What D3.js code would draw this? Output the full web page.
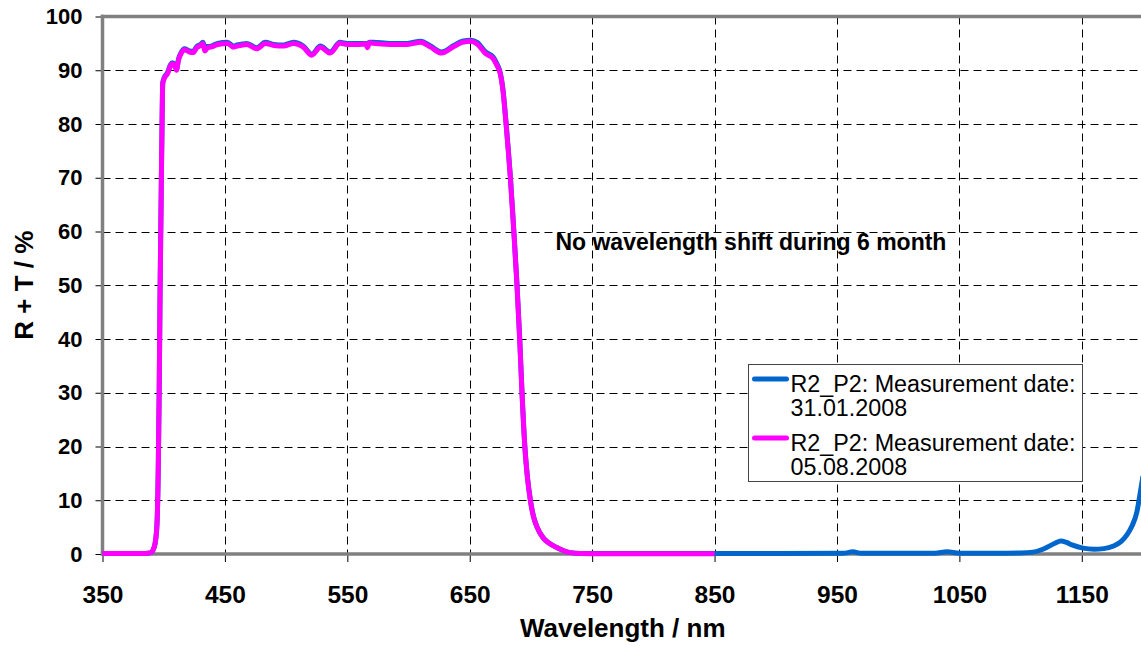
<!DOCTYPE html>
<html>
<head>
<meta charset="utf-8">
<script src="https://cdn.jsdelivr.net/npm/d3@7"></script>
<style>
    body { margin: 0; background: #fff; }
    svg { display: block; font-family: "Liberation Sans", Arial, sans-serif; }
</style>
</head>
<body>
<svg id="chart"></svg>
<script>
// wavelengths (nm) measured by both runs
var wlVis = [350, 370, 385, 389, 391, 393, 394.5, 395.5, 396.3, 397, 397.7, 398.2, 398.7, 399.2, 400.5, 403, 405.5, 407, 409, 410.5,
    412, 414, 417, 421, 424, 427, 430, 432, 433.5, 436, 440, 444, 452, 457, 460, 468, 476, 483, 490, 498,
    506, 514, 521, 528, 536, 544, 550, 558, 565, 566.5, 568, 571, 585, 599, 610, 618, 627, 637, 644, 651,
    656, 663, 669, 672, 675, 677, 679.5, 681.5, 683.2, 686, 688.6, 690.8, 692.7, 695, 697, 699.5, 702, 705, 710, 715,
    721, 727, 732, 740, 760, 800, 850];
// wavelengths (nm) only in the first run
var wlNir = [870, 900, 955, 963, 970, 1000, 1030, 1040, 1050, 1080, 1100, 1110, 1116, 1122, 1128, 1133, 1137, 1142, 1151, 1160,
    1168, 1176, 1182, 1187, 1191, 1195, 1197.7, 1200];
// R + T (%) 31.01.2008
var valJan = [0.1, 0.1, 0.1, 0.2, 0.6, 2.0, 5.5, 15, 30, 48, 62, 72, 81, 87.6, 88.7, 89.5, 91.0, 91.4, 91.0, 90.2,
    92.0, 93.2, 94.0, 93.6, 93.5, 94.4, 94.8, 95.2, 94.4, 94.4, 94.6, 95.0, 95.2, 94.5, 94.7, 95.0, 94.2, 95.2, 94.8, 94.7,
    95.2, 94.5, 93.0, 94.5, 93.4, 95.2, 95.0, 95.0, 95.0, 94.9, 95.2, 95.2, 95.0, 95.0, 95.4, 94.5, 93.4, 94.6, 95.4, 95.6,
    95.2, 93.4, 92.5, 91.3, 89.5, 86.7, 80.7, 75.2, 70.2, 60.2, 50.2, 40.2, 30.1, 20.1, 14.6, 10.1, 7.1, 5, 3, 2,
    1.2, 0.6, 0.25, 0.1, 0.08, 0.08, 0.1,
    0.1, 0.1, 0.12, 0.4, 0.12, 0.12, 0.15, 0.4, 0.15, 0.15, 0.2, 0.35, 0.7, 1.3, 2.0, 2.4, 2.2, 1.7, 1.1, 0.9,
    1.0, 1.5, 2.3, 3.6, 5.2, 7.8, 11.3, 14.5];
// R + T (%) 05.08.2008
var valAug = [0.1, 0.1, 0.1, 0.2, 0.6, 2.0, 5.5, 15, 30, 48, 62, 72, 81, 87.5, 88.5, 89.3, 90.8, 91.2, 90.8, 90.0,
    91.8, 93.0, 93.8, 93.4, 93.3, 94.2, 94.6, 95.0, 93.6, 94.2, 94.4, 94.8, 95.0, 94.3, 94.5, 94.8, 94.0, 95.0, 94.6, 94.5,
    95.0, 94.3, 92.8, 94.3, 93.2, 95.0, 94.8, 94.8, 94.9, 94.2, 95.1, 95.0, 94.8, 94.8, 95.2, 94.3, 93.2, 94.4, 95.2, 95.4,
    94.9, 93.1, 92.2, 91.0, 89.3, 86.5, 80.5, 75, 70, 60, 50, 40, 30, 20, 14.5, 10, 7, 5, 3, 2,
    1.2, 0.6, 0.25, 0.1, 0.05, 0.05, 0.05];
var xTicks = [350, 450, 550, 650, 750, 850, 950, 1050, 1150];
var yTicks = [0, 10, 20, 30, 40, 50, 60, 70, 80, 90, 100];
var seriesNames = ['R2_P2: Measurement date:|31.01.2008', 'R2_P2: Measurement date:|05.08.2008'];
var seriesColors = ['#0066cc', '#ff00ff'];
var note = 'No wavelength shift during 6 month';

function drawSpectrum(selector) {
    var svgWidth = 1141,
        svgHeight = 648;
    var svg = d3.select(selector)
        .attr('width', svgWidth)
        .attr('height', svgHeight);
    // scales
    var x = d3.scaleLinear().domain([350, 1200]).range([102.5, 1143]);
    var y = d3.scaleLinear().domain([0, 100]).range([554, 16.5]);

    // grid
    svg.append('g').selectAll('line')
        .data(xTicks.slice(1))
        .enter()
        .append('line')
        .attr('x1', function(d) { return Math.round(x(d)) + 0.5; })
        .attr('x2', function(d) { return Math.round(x(d)) + 0.5; })
        .attr('y1', y(100))
        .attr('y2', y(0))
        .attr('stroke', '#000')
        .attr('stroke-dasharray', '8,5');
    svg.append('g').selectAll('line')
        .data(yTicks.slice(1, -1))
        .enter()
        .append('line')
        .attr('x1', x(350))
        .attr('x2', x(1200))
        .attr('y1', function(d) { return Math.round(y(d)) + 0.5; })
        .attr('y2', function(d) { return Math.round(y(d)) + 0.5; })
        .attr('stroke', '#000')
        .attr('stroke-dasharray', '8,5');

    // axes
    var xAxis = d3.axisBottom(x).tickValues(xTicks).tickSize(8).tickPadding(24).tickFormat(d3.format('d'));
    var gx = svg.append('g')
        .attr('transform', 'translate(0,' + y(0) + ')')
        .call(xAxis);
    var yAxis = d3.axisLeft(y).tickValues(yTicks).tickSize(7).tickPadding(13);
    var gy = svg.append('g')
        .attr('transform', 'translate(' + x(350) + ',0)')
        .call(yAxis);
    [gx, gy].forEach(function(g) {
        g.select('.domain').remove();
        g.selectAll('.tick line').attr('stroke', '#000');
        g.selectAll('text')
            .attr('fill', '#000')
            .style('font-weight', 'bold');
    });
    gx.selectAll('text').style('font-size', '24.5px');
    gy.selectAll('text').style('font-size', '22px');

    // plot area border (grey)
    var border = [[x(350), y(100), x(350), y(0)], [x(350), y(0), x(1200), y(0)], [x(350), y(100), x(1200), y(100)]];
    svg.append('g').selectAll('line')
        .data(border)
        .enter()
        .append('line')
        .attr('x1', function(d) { return d[0]; })
        .attr('y1', function(d) { return d[1]; })
        .attr('x2', function(d) { return d[2]; })
        .attr('y2', function(d) { return d[3]; })
        .attr('stroke', '#808080')
        .attr('stroke-width', 3.5)
        .attr('stroke-linecap', 'square');

    // lines
    var line = d3.line()
        .curve(d3.curveMonotoneX)
        .x(function(d) { return x(d[0]); })
        .y(function(d) { return y(d[1]); });
    var wlJan = wlVis.concat(wlNir);
    var series = [
        wlJan.map(function(w, i) { return [w, valJan[i]]; }),
        wlVis.map(function(w, i) { return [w, valAug[i]]; })
    ];
    svg.append('g').selectAll('path')
        .data(series)
        .enter()
        .append('path')
        .attr('d', function(d) { return line(d); })
        .attr('fill', 'none')
        .attr('stroke', function(d, i) { return seriesColors[i]; })
        .attr('stroke-width', 5)
        .attr('stroke-linejoin', 'round');

    // note
    svg.append('text')
        .attr('x', x(720))
        .attr('y', y(56.6))
        .style('font-size', '23px')
        .style('font-weight', 'bold')
        .text(note);

    // axis titles
    svg.append('text')
        .attr('x', (x(350) + x(1200)) / 2)
        .attr('y', 637)
        .attr('text-anchor', 'middle')
        .style('font-size', '26px')
        .style('font-weight', 'bold')
        .text('Wavelength / nm');
    svg.append('text')
        .attr('transform', 'translate(33,' + (y(0) + y(100)) / 2 + ') rotate(-90)')
        .attr('text-anchor', 'middle')
        .style('font-size', '26px')
        .style('font-weight', 'bold')
        .text('R + T / %');

    // legend
    var legend = svg.append('g').attr('transform', 'translate(748.5,364.5)');
    legend.append('rect')
        .attr('width', 334)
        .attr('height', 117)
        .attr('fill', '#fff')
        .attr('stroke', '#444')
        .attr('stroke-width', 1);
    var items = legend.selectAll('.legend')
        .data(seriesNames)
        .enter()
        .append('g')
        .attr('class', 'legend')
        .attr('transform', function(d, i) { return 'translate(0,' + (i * 59) + ')'; });
    items.append('line')
        .attr('x1', 6)
        .attr('x2', 38)
        .attr('y1', 14.5)
        .attr('y2', 14.5)
        .attr('stroke', function(d, i) { return seriesColors[i]; })
        .attr('stroke-width', 5)
        .attr('stroke-linecap', 'round');
    items.selectAll('text')
        .data(function(d) { return d.split('|'); })
        .enter()
        .append('text')
        .attr('x', 42)
        .attr('y', function(d, j) { return 27 + j * 24.5; })
        .style('font-size', '23.3px')
        .attr('fill', '#000')
        .text(function(d) { return d; });
}
drawSpectrum('#chart');
</script>
</body>
</html>
